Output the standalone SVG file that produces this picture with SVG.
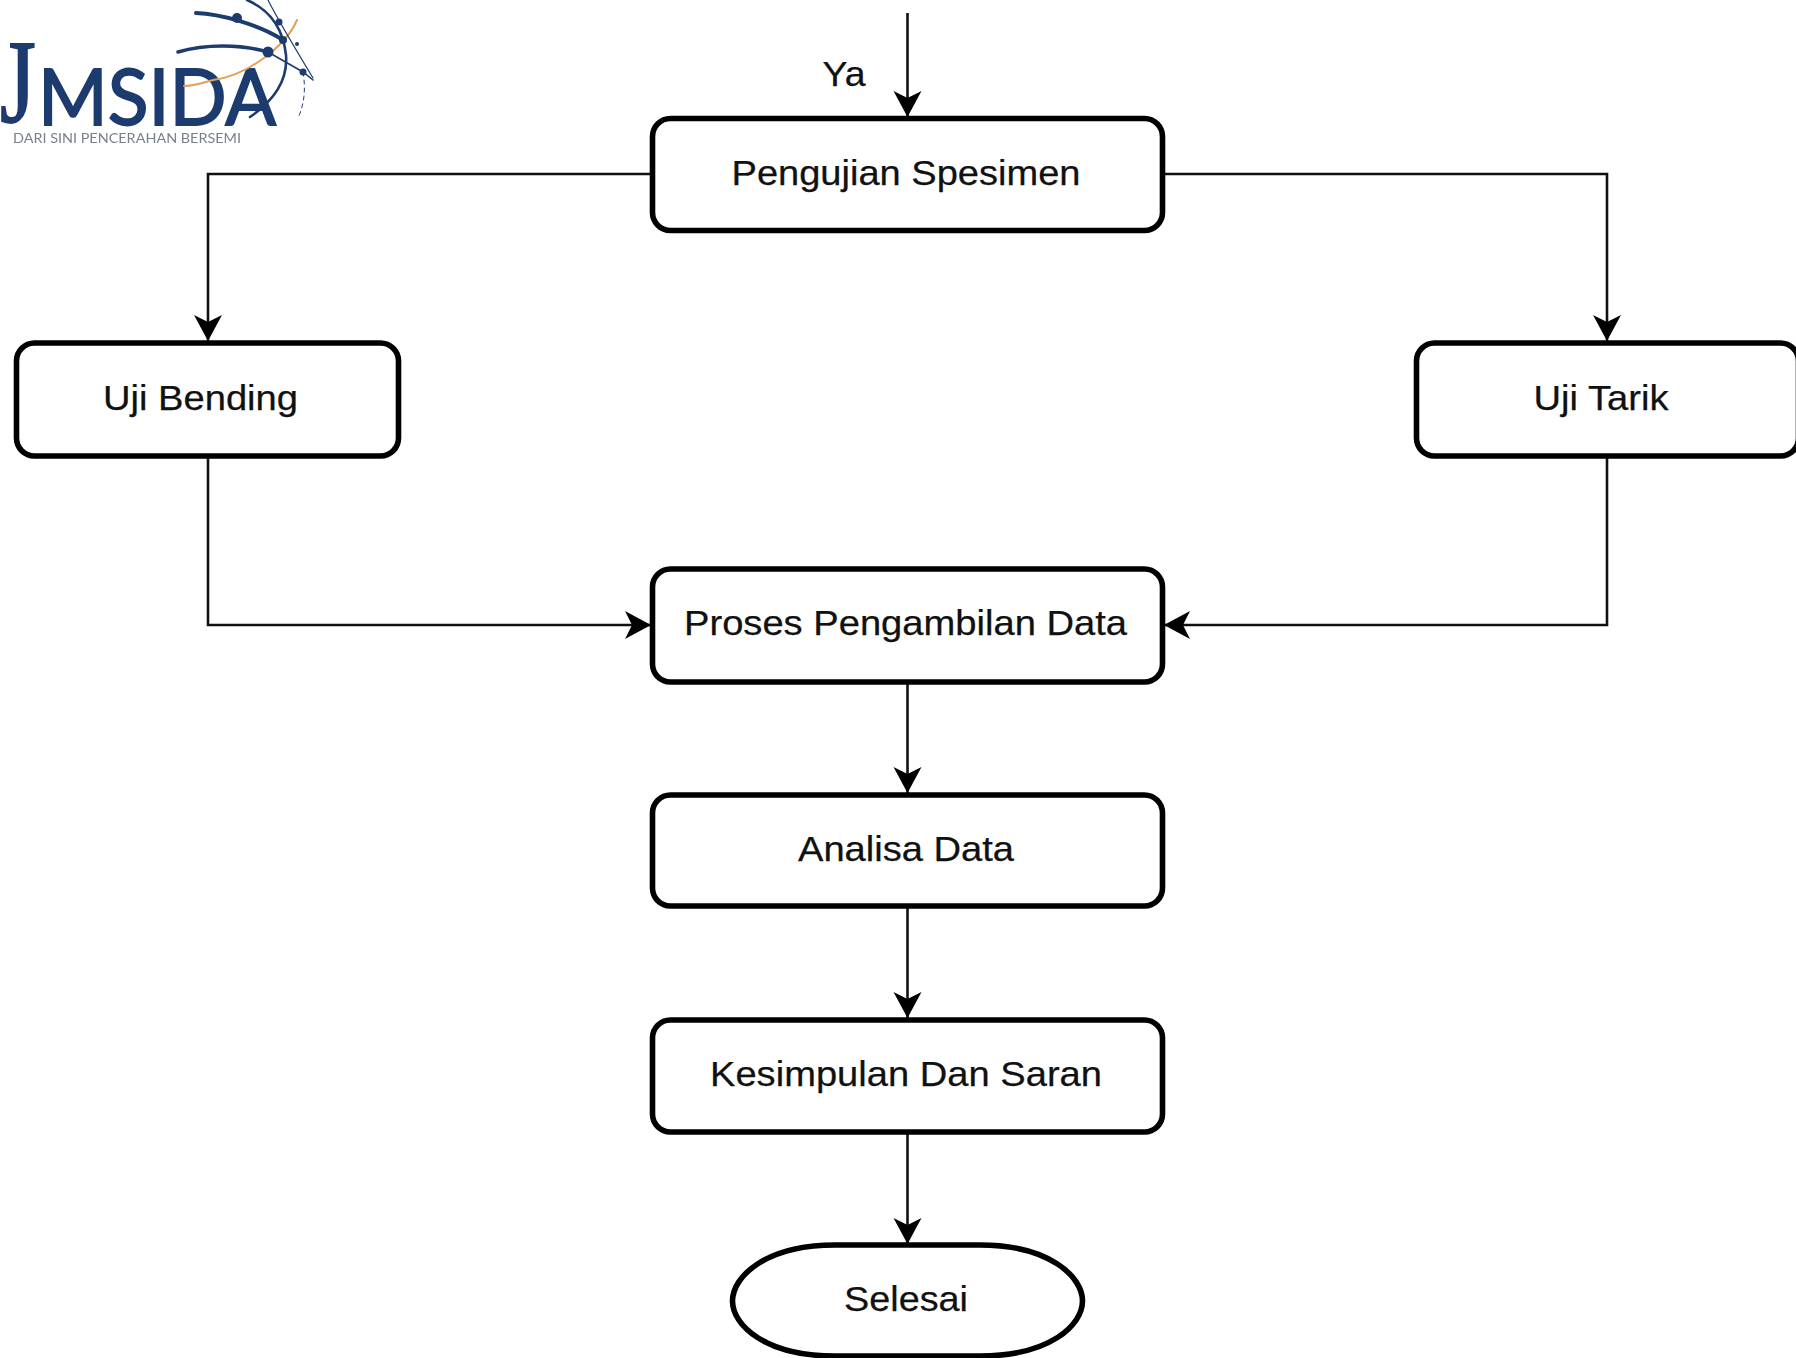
<svg xmlns="http://www.w3.org/2000/svg" width="1796" height="1358" viewBox="0 0 1796 1358">
<style>
.box{fill:#fff;stroke:#000;stroke-width:5.6}
.lbl{font-family:"Liberation Sans",Arial,sans-serif;font-size:35px;fill:#111;text-anchor:middle;stroke:#111;stroke-width:.25}
.conn{fill:none;stroke:#111;stroke-width:2.6}
.logo{fill:none;stroke:#1f3a6e;stroke-linecap:round}
.dot{fill:#1f3a6e}
.brand{fill:#1f3a6e;stroke:#1f3a6e;stroke-width:1.8}
</style>
<defs>
<marker id="arrow" markerUnits="userSpaceOnUse" markerWidth="30" markerHeight="30" refX="26" refY="14" orient="auto">
<path d="M0 0L26 14L0 28L7 14Z" fill="#000"/>
</marker>
<filter id="soft" x="-5%" y="-5%" width="110%" height="110%"><feGaussianBlur stdDeviation="0.6"/></filter>
</defs>
<rect width="1796" height="1358" fill="#fff"/>
<g id="logo" filter="url(#soft)">
<text class="brand" transform="translate(0 122) scale(.78 1)" font-family="Liberation Serif,serif" font-size="118">J</text>
<text class="brand" x="38" y="125" font-family="Lato,sans-serif" font-size="78" textLength="238" lengthAdjust="spacingAndGlyphs">MSIDA</text>
<text x="13" y="143" font-family="Lato,sans-serif" font-size="14" fill="#7a808a" textLength="228" lengthAdjust="spacingAndGlyphs">DARI SINI PENCERAHAN BERSEMI</text>
<path class="logo" stroke-width="2" style="stroke:#e0a25a" d="M297 20C285 48 245 76 213 80C200 84 190 86 184 86"/>
<path class="logo" stroke-width="4" d="M196 13C220 14 258 24 283 40"/>
<path class="logo" stroke-width="3.5" d="M178 52C205 44 240 44 268 52"/>
<path class="logo" stroke-width="1.6" d="M268 52L303 72L313 80"/>
<path class="logo" stroke-width="2.6" d="M247 0C270 10 283 28 286 55C288 80 275 100 250 117"/>
<path class="logo" stroke-width="1.2" d="M268 0C278 20 290 40 313 78"/>
<path class="logo" stroke-width="1" stroke-dasharray="4 4" d="M303 72C306 90 304 105 298 118"/>
<circle class="dot" cx="237" cy="18" r="5"/><circle class="dot" cx="279" cy="22" r="3.5"/><circle class="dot" cx="283" cy="40" r="4"/><circle class="dot" cx="268" cy="52" r="5.5"/><circle class="dot" cx="303" cy="72" r="3.5"/><circle class="dot" cx="297" cy="44" r="2"/>
</g>
<g id="connectors">
<path class="conn" marker-end="url(#arrow)" d="M907.500 13V117"/>
<path class="conn" marker-end="url(#arrow)" d="M651 174H208V341"/>
<path class="conn" marker-end="url(#arrow)" d="M1164 174H1607V341"/>
<path class="conn" marker-end="url(#arrow)" d="M208 458V625H651"/>
<path class="conn" marker-end="url(#arrow)" d="M1607 458V625H1164"/>
<path class="conn" marker-end="url(#arrow)" d="M907.500 684V793"/>
<path class="conn" marker-end="url(#arrow)" d="M907.500 908V1018"/>
<path class="conn" marker-end="url(#arrow)" d="M907.500 1134V1244"/>
</g>
<text id="label-ya" class="lbl" x="844" y="86" textLength="43" lengthAdjust="spacingAndGlyphs">Ya</text>
<g id="n1"><rect class="box" x="652.500" y="118.500" width="510" height="112" rx="18"/><text class="lbl" x="906" y="185" textLength="349" lengthAdjust="spacingAndGlyphs">Pengujian Spesimen</text></g>
<g id="n2"><rect class="box" x="16.500" y="343" width="382" height="113" rx="18"/><text class="lbl" x="200.500" y="410" textLength="195" lengthAdjust="spacingAndGlyphs">Uji Bending</text></g>
<g id="n3"><rect class="box" x="1416.500" y="343" width="382" height="113" rx="18"/><text class="lbl" x="1601" y="410" textLength="135" lengthAdjust="spacingAndGlyphs">Uji Tarik</text></g>
<g id="n4"><rect class="box" x="652.500" y="569" width="510" height="113" rx="18"/><text class="lbl" x="905.500" y="635" textLength="443" lengthAdjust="spacingAndGlyphs">Proses Pengambilan Data</text></g>
<g id="n5"><rect class="box" x="652.500" y="795" width="510" height="111" rx="18"/><text class="lbl" x="906" y="861" textLength="216" lengthAdjust="spacingAndGlyphs">Analisa Data</text></g>
<g id="n6"><rect class="box" x="652.500" y="1020" width="510" height="112" rx="18"/><text class="lbl" x="906" y="1086" textLength="392" lengthAdjust="spacingAndGlyphs">Kesimpulan Dan Saran</text></g>
<g id="n7"><path class="box" d="M835 1245H980C1050 1245 1082.500 1277 1082.500 1301C1082.500 1325 1050 1356 980 1356H835C765 1356 732.500 1325 732.500 1301C732.500 1277 765 1245 835 1245Z"/><text class="lbl" x="906" y="1311" textLength="124" lengthAdjust="spacingAndGlyphs">Selesai</text></g>
</svg>
